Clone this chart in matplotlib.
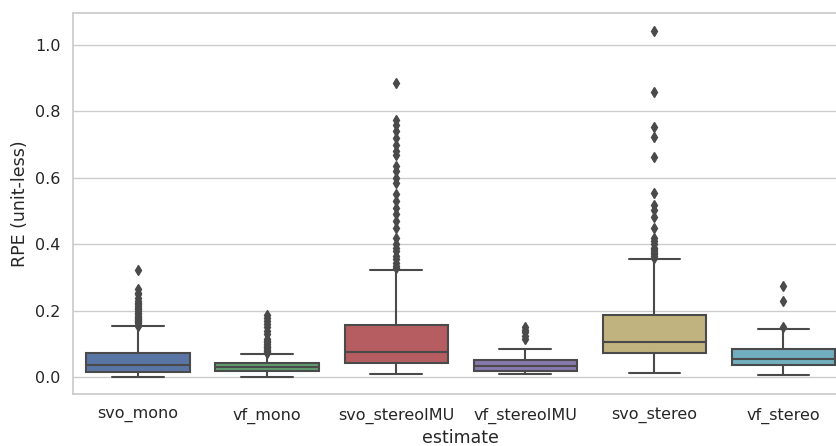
import matplotlib
matplotlib.use("Agg")
import matplotlib.pyplot as plt
import seaborn as sns

categories = ["svo_mono", "vf_mono", "svo_stereoIMU", "vf_stereoIMU", "svo_stereo", "vf_stereo"]
q1 = [0.017, 0.019, 0.044, 0.019, 0.072, 0.038]
med = [0.036, 0.032, 0.076, 0.033, 0.107, 0.055]
q3 = [0.072, 0.043, 0.157, 0.051, 0.187, 0.084]
whislo = [0.002, 0.002, 0.010, 0.010, 0.014, 0.007]
whishi = [0.153, 0.071, 0.322, 0.084, 0.356, 0.145]
fliers_svo_mono = [0.155, 0.158, 0.162, 0.165, 0.168, 0.172, 0.175, 0.178, 0.182, 0.185,
                   0.19, 0.195, 0.2, 0.205, 0.21, 0.215, 0.22, 0.225, 0.23, 0.24, 0.25,
                   0.255, 0.265, 0.322]
fliers_vf_mono = [0.073, 0.076, 0.08, 0.083, 0.087, 0.09, 0.095, 0.1, 0.105, 0.11, 0.115,
                  0.13, 0.14, 0.15, 0.16, 0.17, 0.18, 0.188]
fliers_svo_stereoIMU = [0.33, 0.335, 0.345, 0.355, 0.365, 0.38, 0.39, 0.40, 0.42, 0.45,
                        0.47, 0.49, 0.51, 0.53, 0.55, 0.585, 0.60, 0.62, 0.635, 0.67,
                        0.68, 0.70, 0.72, 0.74, 0.76, 0.775, 0.886]
fliers_vf_stereoIMU = [0.115, 0.125, 0.135, 0.143, 0.152]
fliers_svo_stereo = [0.36, 0.365, 0.37, 0.375, 0.38, 0.385, 0.39, 0.40, 0.41, 0.42, 0.448,
                     0.483, 0.503, 0.518, 0.553, 0.662, 0.724, 0.754, 0.857, 1.042]
fliers_vf_stereo = [0.152, 0.230, 0.275]
fliers = [fliers_svo_mono, fliers_vf_mono, fliers_svo_stereoIMU,
          fliers_vf_stereoIMU, fliers_svo_stereo, fliers_vf_stereo]

sns.set_theme(style="whitegrid", context="notebook")
plt.rcParams['font.family'] = ['DejaVu Sans']

fig = plt.figure(figsize=(8.37, 4.46), dpi=100)
ax = fig.add_axes([73.5 / 837, 1 - 394.3 / 446, (848 - 73.5) / 837, (394.3 - 13.3) / 446])

stats = []
for i, c in enumerate(categories):
    stats.append(dict(label=c, q1=q1[i], med=med[i], q3=q3[i],
                      whislo=whislo[i], whishi=whishi[i], fliers=fliers[i]))

pal = sns.color_palette("deep6", 6)
cols = [sns.desaturate(c, 0.75) for c in pal]
gray = "#4a4a4a"
lw = 1.5
bp = ax.bxp(stats, positions=range(len(categories)), widths=0.8, patch_artist=True,
            boxprops=dict(edgecolor=gray, linewidth=lw),
            medianprops=dict(color=gray, linewidth=lw),
            whiskerprops=dict(color=gray, linewidth=lw),
            capprops=dict(color=gray, linewidth=lw),
            flierprops=dict(marker="d", markerfacecolor=gray, markeredgecolor=gray,
                            markersize=5, linestyle="none"))
for patch, c in zip(bp["boxes"], cols):
    patch.set_facecolor(c)

ax.set_xlim(-0.5, 5.5)
ax.set_ylim(-0.051, 1.095)
ax.set_xticks(range(len(categories)))
ax.set_xticklabels(categories)
ax.set_yticks([0.0, 0.2, 0.4, 0.6, 0.8, 1.0])
ax.tick_params(labelsize=11.5)
ax.set_xlabel("estimate", fontsize=12.5)
ax.set_ylabel("RPE (unit-less)", fontsize=12.5)
ax.xaxis.grid(False)

fig.savefig("out.png", dpi=100)
